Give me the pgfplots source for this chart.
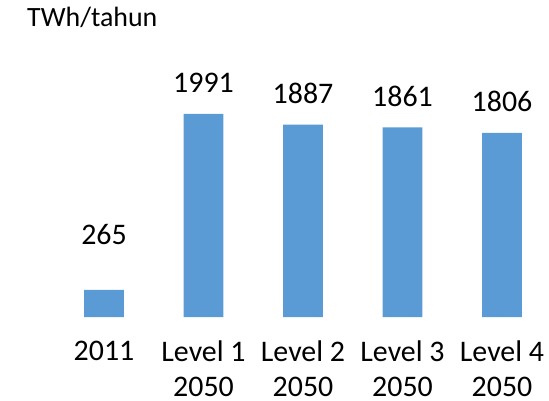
\documentclass[border=0pt]{standalone}
\usepackage{pgfplots}
\pgfplotsset{compat=1.18}
\usepackage{pgfplotstable}
\usepackage{fontspec}
\setmainfont{Carlito}
\definecolor{barblue}{HTML}{5B9BD5}
\pgfplotstableread{
x y off
0 265 55
1 1991 31
2 1887 31
3 1861 31
4 1806 31
}\datatable
\begin{document}
\begin{tikzpicture}[x=1bp,y=1bp]
\path[use as bounding box] (0,0) rectangle (549,400);
\node[anchor=base west,font=\fontsize{28}{34}\selectfont,inner sep=0pt] at (27,374) {TWh/tahun};
\begin{axis}[
  at={(104bp,83bp)}, anchor=origin,
  scale only axis,
  width=487.55bp, height=254.9bp,
  xmin=-0.45, xmax=4.45, ymin=0, ymax=2500,
  axis lines*=left,
  axis line style={draw=none},
  xtick={0,1,2,3,4},
  xticklabels={{2011},{Level 1\\\smash{2050}},{Level 2\\\smash{2050}},{Level 3\\\smash{2050}},{Level 4\\\smash{2050}}},
  xtick style={draw=none},
  ytick=\empty,
  xticklabel style={align=center,font=\fontsize{30}{35}\selectfont,anchor=north,inner sep=0pt,yshift=-24bp},
  /pgf/number format/assume math mode=true,
  /pgf/number format/1000 sep={},
  clip=false,
]
\addplot[ybar, bar width=0.4, fill=barblue, draw=none,
  nodes near coords,
  visualization depends on={\thisrow{off} \as \off},
  every node near coord/.append style={anchor=center,yshift=\off bp,font=\fontsize{30}{35}\selectfont,text=black}
] table[x=x,y=y] {\datatable};
\end{axis}
\end{tikzpicture}
\end{document}
